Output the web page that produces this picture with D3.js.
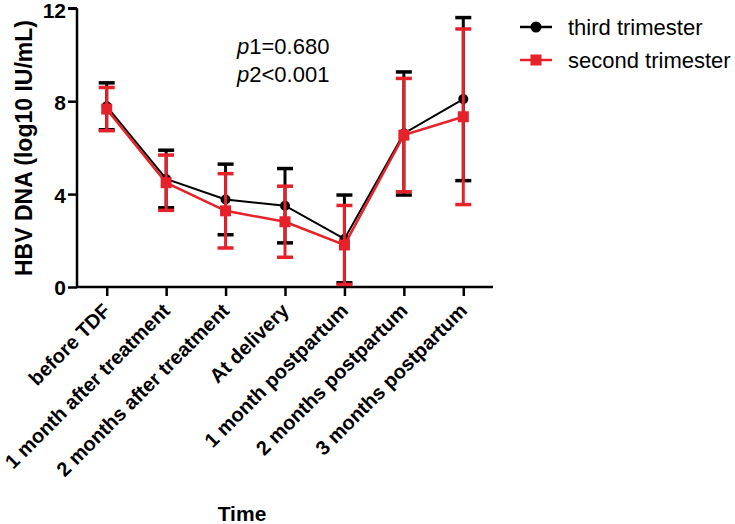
<!DOCTYPE html>
<html><head><meta charset="utf-8">
<script src="https://cdn.jsdelivr.net/npm/d3@7"></script>
<style>body{margin:0;background:#fff}svg{display:block}</style>
</head><body>
<script>
const categories = ["before TDF","1 month after treatment","2 months after treatment","At delivery","1 month postpartum","2 months postpartum","3 months postpartum"];
const thirdMean = [7.78, 4.65, 3.77, 3.50, 2.07, 6.61, 8.09];
const thirdSD   = [1.01, 1.24, 1.52, 1.60, 1.89, 2.65, 3.51];
const secondMean = [7.66, 4.49, 3.28, 2.81, 1.81, 6.54, 7.33];
const secondSD   = [0.93, 1.19, 1.60, 1.53, 1.70, 2.44, 3.78];
const yTicks = [0, 4, 8, 12];
const seriesNames = ["third trimester", "second trimester"];

const W = 735, H = 524;
const svg = d3.select("body").append("svg").attr("width", W).attr("height", H);
svg.append("rect").attr("width", W).attr("height", H).attr("fill", "#fff");
const font = "'Liberation Sans', Arial, sans-serif";
const RED = "#e5212a";

const x = d3.scalePoint().domain(categories).range([77, 493]).padding(0.5);
const y = d3.scaleLinear().domain([0, 12]).range([287, 8.3]);

// axes
const yAxis = svg.append("g").attr("transform", "translate(77,0)")
  .call(d3.axisLeft(y).tickValues(yTicks).tickSize(9).tickPadding(2));
yAxis.select(".domain").attr("d", `M0,${y(12)}H-9M0,${y(12)}V${y(0)}`);
yAxis.selectAll("path,line").attr("stroke", "#000").attr("stroke-width", 2.5);
yAxis.selectAll("text").attr("font-family", font).attr("font-weight", "bold")
  .attr("font-size", 21).attr("fill", "#000").attr("dy", d => d === 12 ? "0.45em" : "0.38em");

const xAxis = svg.append("g").attr("transform", "translate(0,287)")
  .call(d3.axisBottom(x).tickSize(9).tickSizeOuter(0));
xAxis.select(".domain").attr("d", `M77,0H493`);
xAxis.selectAll("path,line").attr("stroke", "#000").attr("stroke-width", 2.5);
xAxis.selectAll("text").remove();
svg.append("g").selectAll("text").data(categories).join("text")
  .attr("transform", d => `translate(${x(d) + 5},312) rotate(-45)`)
  .attr("text-anchor", "end")
  .attr("font-family", font).attr("font-weight", "bold").attr("font-size", 20)
  .text(d => d);

// titles
svg.append("text").attr("transform", "translate(32,148) rotate(-90)")
  .attr("text-anchor", "middle").attr("font-family", font).attr("font-weight", "bold")
  .attr("font-size", 23).text("HBV DNA (log10 IU/mL)");
svg.append("text").attr("x", 242).attr("y", 521).attr("text-anchor", "middle")
  .attr("font-family", font).attr("font-weight", "bold").attr("font-size", 21).text("Time");

// annotation
const ann = [["1=0.680", 54], ["2<0.001", 82]];
ann.forEach(([t, yy]) => {
  const tx = svg.append("text").attr("x", 237).attr("y", yy)
    .attr("font-family", font).attr("font-size", 22);
  tx.append("tspan").attr("font-style", "italic").text("p");
  tx.append("tspan").text(t);
});

function drawSeries(means, sds, color, lw, marker) {
  const g = svg.append("g");
  const data = categories.map((c, i) => ({c, m: means[i], s: sds[i]}));
  g.selectAll("line.eb").data(data).join("line")
    .attr("x1", d => x(d.c)).attr("x2", d => x(d.c))
    .attr("y1", d => y(d.m + d.s)).attr("y2", d => y(Math.max(0, d.m - d.s)))
    .attr("stroke", color).attr("stroke-width", 3);
  ["top", "bot"].forEach(k => {
    g.selectAll("line.cap" + k).data(data).join("line")
      .attr("x1", d => x(d.c) - 8).attr("x2", d => x(d.c) + 8)
      .attr("y1", d => y(k === "top" ? d.m + d.s : Math.max(0, d.m - d.s)))
      .attr("y2", d => y(k === "top" ? d.m + d.s : Math.max(0, d.m - d.s)))
      .attr("stroke", color).attr("stroke-width", 3.5);
  });
  g.append("path").datum(data)
    .attr("d", d3.line().x(d => x(d.c)).y(d => y(d.m)))
    .attr("fill", "none").attr("stroke", color).attr("stroke-width", lw);
  if (marker === "circle") {
    g.selectAll("circle").data(data).join("circle")
      .attr("cx", d => x(d.c)).attr("cy", d => y(d.m)).attr("r", 5).attr("fill", color);
  } else {
    g.selectAll("rect").data(data).join("rect")
      .attr("x", d => x(d.c) - 5.5).attr("y", d => y(d.m) - 5.5)
      .attr("width", 11).attr("height", 11).attr("fill", color);
  }
}
drawSeries(thirdMean, thirdSD, "#000", 2, "circle");
drawSeries(secondMean, secondSD, RED, 2.5, "square");

// legend
const leg = [[seriesNames[0], "#000", "circle", 27], [seriesNames[1], RED, "square", 60]];
leg.forEach(([name, col, mk, ly]) => {
  svg.append("line").attr("x1", 520).attr("x2", 552).attr("y1", ly).attr("y2", ly)
    .attr("stroke", col).attr("stroke-width", 2.5);
  if (mk === "circle") svg.append("circle").attr("cx", 536).attr("cy", ly).attr("r", 5.5).attr("fill", col);
  else svg.append("rect").attr("x", 530.5).attr("y", ly - 5.5).attr("width", 11).attr("height", 11).attr("fill", col);
  svg.append("text").attr("x", 568).attr("y", ly + 8).attr("font-family", font)
    .attr("font-size", 22).attr("fill", "#000").text(name);
});
</script>
</body></html>
